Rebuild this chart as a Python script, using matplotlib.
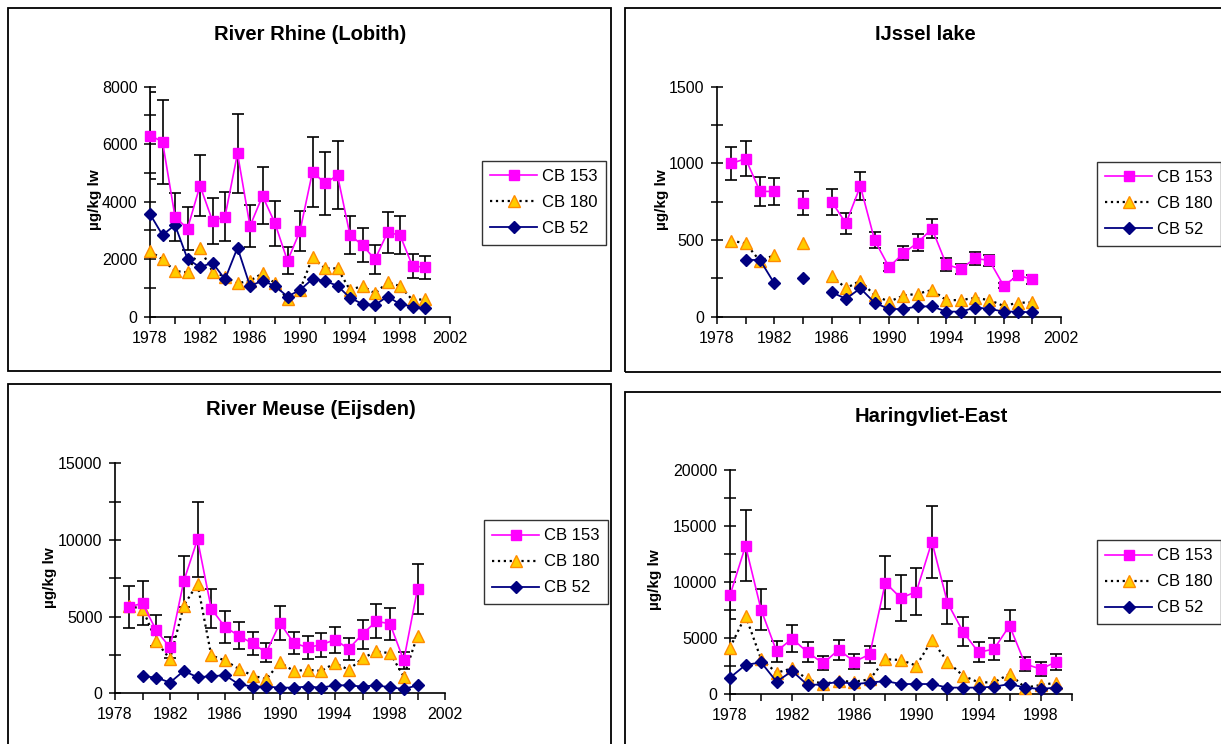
import numpy as np
import matplotlib
matplotlib.use("Agg")
import matplotlib.pyplot as plt
from matplotlib.patches import Rectangle
from matplotlib.ticker import MultipleLocator, FixedLocator
from matplotlib.lines import Line2D

plt.rcParams['font.family'] = ['Liberation Sans', 'DejaVu Sans']

nan = np.nan

# ---------------- data ----------------
series_names = ["CB 153", "CB 180", "CB 52"]

# River Rhine (Lobith)
rhine_years = list(range(1978, 2001))
rhine_cb153 = [6300, 6090, 3480, 3060, 4560, 3330, 3480, 5680, 3150, 4200, 3250, 1940,
               2980, 5040, 4640, 4920, 2840, 2490, 1990, 2930, 2840, 1760, 1720]
rhine_cb153_err = [1520, 1460, 830, 750, 1070, 815, 840, 1365, 735, 990, 785, 470,
                   700, 1220, 1100, 1180, 670, 600, 490, 700, 670, 430, 405]
rhine_cb180 = [2280, 1990, 1590, 1540, 2380, 1570, 1390, 1160, 1250, 1510, 1160, 600,
               930, 2060, 1680, 1680, 930, 1070, 810, 1190, 1070, 580, 610]
rhine_cb52 = [3570, 2840, 3190, 2010, 1720, 1880, 1300, 2400, 1070, 1250, 1070, 700,
              930, 1310, 1250, 1070, 660, 440, 410, 700, 440, 350, 300]

# IJssel lake
ijssel_years = list(range(1979, 2001))
ijssel_cb153 = [1000, 1030, 817, 817, nan, 743, nan, 750, 609, 852, 498, 324,
                413, 483, 574, 341, 311, 380, 367, 202, 270, 243]
ijssel_cb153_err = [108, 114, 92, 88, nan, 79, nan, 84, 67, 93, 53, 28,
                    46, 55, 64, 40, 33, 42, 36, 15, 25, 30]
ijssel_cb180 = [496, 478, 363, 402, nan, 483, nan, 267, 185, 235, 139, 98,
                137, 150, 174, 107, 109, 122, 109, 70, 91, 93]
ijssel_cb52 = [nan, 370, 370, 217, nan, 250, nan, 159, 117, 185, 91, 50,
               50, 67, 67, 33, 33, 59, 52, 33, 33, 28]

# River Meuse (Eijsden)
meuse_years = list(range(1979, 2001))
meuse_cb153 = [5630, 5870, 4100, 2990, 7310, 10040, 5520, 4320, 3760, 3250, 2660,
               4590, 3280, 2990, 3170, 3490, 2900, 3860, 4690, 4540, 2140, 6810]
meuse_cb153_err = [1360, 1440, 1000, 700, 1670, 2430, 1290, 1015, 885, 765, 635,
                   1100, 730, 735, 785, 840, 735, 940, 1110, 1050, 545, 1625]
meuse_cb180 = [5680, 5520, 3380, 2230, 5720, 7140, 2470, 2140, 1590, 1160, 920,
               2010, 1460, 1530, 1460, 1970, 1530, 2290, 2730, 2620, 1090, 3760]
meuse_cb52 = [nan, 1110, 1030, 700, 1460, 1050, 1110, 1180, 590, 440, 440,
              370, 370, 440, 370, 520, 520, 440, 520, 390, 280, 520]

# Haringvliet-East
haring_years = list(range(1978, 2000))
haring_cb153 = [8810, 13240, 7530, 3810, 4940, 3720, 2740, 3960, 2890, 3540, 9940,
                8570, 9140, 13600, 8150, 5570, 3720, 4020, 6100, 2680, 2230, 2860]
haring_cb153_err = [2100, 3150, 1830, 950, 1190, 890, 625, 890, 670, 775, 2380,
                    2020, 2130, 3210, 1900, 1300, 890, 970, 1410, 600, 600, 715]
haring_cb180 = [4140, 6990, 3120, 1900, 2290, 1310, 890, 1160, 1100, 1310, 3100,
                3040, 2530, 4820, 2890, 1640, 1040, 1040, 1790, 570, 800, 1010]
haring_cb52 = [1460, 2590, 2830, 1100, 2050, 800, 860, 1100, 890, 1010, 1160,
               890, 890, 890, 570, 570, 570, 650, 890, 570, 450, 570]

titles = ["River Rhine (Lobith)", "IJssel lake", "River Meuse (Eijsden)", "Haringvliet-East"]
ylabel = "µg/kg lw"

x_labels_a = [1978, 1982, 1986, 1990, 1994, 1998, 2002]
x_labels_d = [1978, 1982, 1986, 1990, 1994, 1998]

# ---------------- layout ----------------
W, H = 1221, 744
fig = plt.figure(figsize=(W / 100, H / 100), dpi=100)


def fbox(x0, x1, ytop, ybot):
    return [x0 / W, 1 - ybot / H, (x1 - x0) / W, (ybot - ytop) / H]


# outer panel frames (pixels)
frames = [(8, 8, 611, 371), (625, 8, 1226, 372), (8, 384, 611, 750), (625, 392, 1226, 750)]
for (x0, y0, x1, y1) in frames:
    fig.patches.append(Rectangle((x0 / W, 1 - y1 / H), (x1 - x0) / W, (y1 - y0) / H,
                                 transform=fig.transFigure, fill=False,
                                 edgecolor='black', linewidth=1.3, zorder=0))

panels = [
    dict(years=rhine_years, c153=rhine_cb153, e153=rhine_cb153_err, c180=rhine_cb180, c52=rhine_cb52,
         box=fbox(150, 450, 86.7, 316.7), xlim=(1978, 2002), ylim=(0, 8000), ymaj=2000, ymin=1000,
         xl=x_labels_a, title_xy=(310, 34), ylab_xy=(95, 200), leg_xy=(482, 161)),
    dict(years=ijssel_years, c153=ijssel_cb153, e153=ijssel_cb153_err, c180=ijssel_cb180, c52=ijssel_cb52,
         box=fbox(717, 1061, 86.7, 316.7), xlim=(1978, 2002), ylim=(0, 1500), ymaj=500, ymin=250,
         xl=x_labels_a, title_xy=(925, 34), ylab_xy=(662, 200), leg_xy=(1097, 162)),
    dict(years=meuse_years, c153=meuse_cb153, e153=meuse_cb153_err, c180=meuse_cb180, c52=meuse_cb52,
         box=fbox(115, 445, 463.3, 693.3), xlim=(1978, 2002), ylim=(0, 15000), ymaj=5000, ymin=2500,
         xl=x_labels_a, title_xy=(311, 410), ylab_xy=(50, 578), leg_xy=(484, 520)),
    dict(years=haring_years, c153=haring_cb153, e153=haring_cb153_err, c180=haring_cb180, c52=haring_cb52,
         box=fbox(730, 1071.7, 470, 694), xlim=(1978, 2000), ylim=(0, 20000), ymaj=5000, ymin=2500,
         xl=x_labels_d, title_xy=(931, 417), ylab_xy=(655, 580), leg_xy=(1097, 540)),
]

MAG = '#FF00FF'
NAVY = '#000080'
YEL = '#FFCC00'
ORG = '#FF8C00'

for i, p in enumerate(panels):
    ax = fig.add_axes(p['box'])
    ax.set_facecolor('none')
    yrs = np.array(p['years'], dtype=float)
    c153 = np.array(p['c153'], dtype=float)
    e153 = np.array(p['e153'], dtype=float)
    c180 = np.array(p['c180'], dtype=float)
    c52 = np.array(p['c52'], dtype=float)

    ax.errorbar(yrs, c153, yerr=e153, fmt='none', ecolor='black', elinewidth=1.2,
                capsize=4.5, capthick=1.2, zorder=2)
    ax.plot(yrs, c180, linestyle=':', color='black', linewidth=1.6, marker='^',
            markersize=8, markerfacecolor=YEL, markeredgecolor=ORG, markeredgewidth=1.0,
            zorder=3, clip_on=False)
    ax.plot(yrs, c52, linestyle='-', color=NAVY, linewidth=1.3, marker='D',
            markersize=6, markerfacecolor=NAVY, markeredgecolor=NAVY, zorder=4, clip_on=False)
    ax.plot(yrs, c153, linestyle='-', color=MAG, linewidth=1.2, marker='s',
            markersize=7.5, markerfacecolor=MAG, markeredgecolor=MAG, zorder=5, clip_on=False)

    ax.set_xlim(*p['xlim'])
    ax.set_ylim(*p['ylim'])
    ax.xaxis.set_major_locator(FixedLocator(p['xl']))
    ax.xaxis.set_minor_locator(MultipleLocator(2))
    ax.yaxis.set_major_locator(MultipleLocator(p['ymaj']))
    ax.yaxis.set_minor_locator(MultipleLocator(p['ymin']))
    for s in ['top', 'right']:
        ax.spines[s].set_visible(False)
    for s in ['left', 'bottom']:
        ax.spines[s].set_linewidth(1.2)
        ax.spines[s].set_color('black')
    ax.tick_params(axis='x', which='both', direction='out', length=5, width=1.1,
                   labelsize=11.5, pad=5, colors='black')
    ax.tick_params(axis='y', which='both', direction='inout', length=8, width=1.1,
                   labelsize=11.5, pad=5, colors='black')

    fig.text(p['title_xy'][0] / W, 1 - p['title_xy'][1] / H, titles[i], ha='center', va='center',
             fontsize=14.5, fontweight='bold')
    fig.text(p['ylab_xy'][0] / W, 1 - p['ylab_xy'][1] / H, ylabel, ha='center', va='center',
             rotation=90, fontsize=11, fontweight='bold')

    handles = [
        Line2D([], [], linestyle='-', color=MAG, linewidth=1.2, marker='s', markersize=7.5,
               markerfacecolor=MAG, markeredgecolor=MAG),
        Line2D([], [], linestyle=':', color='black', linewidth=1.6, marker='^', markersize=8,
               markerfacecolor=YEL, markeredgecolor=ORG),
        Line2D([], [], linestyle='-', color=NAVY, linewidth=1.3, marker='D', markersize=6,
               markerfacecolor=NAVY, markeredgecolor=NAVY),
    ]
    leg = ax.legend(handles, series_names, loc='upper left',
                    bbox_to_anchor=(p['leg_xy'][0] / W, 1 - p['leg_xy'][1] / H),
                    bbox_transform=fig.transFigure, frameon=True, fancybox=False,
                    edgecolor='black', fontsize=12, handlelength=2.8, handletextpad=0.3,
                    borderpad=0.5, labelspacing=0.66, borderaxespad=0, numpoints=1)
    leg.get_frame().set_linewidth(1.0)

fig.savefig("out.png", dpi=100)
